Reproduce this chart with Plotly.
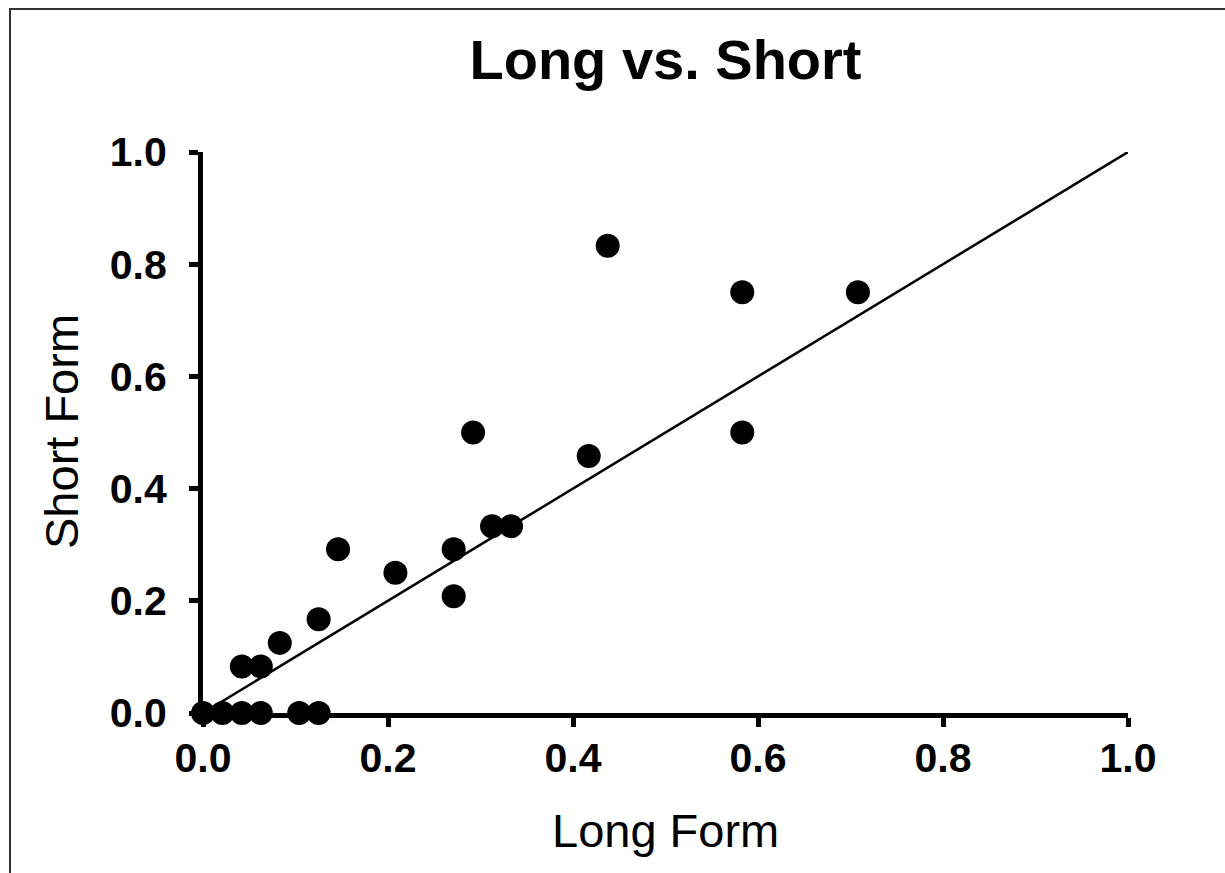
import plotly.graph_objects as go

# Data (Long Form vs Short Form)
long_form = [0.0, 0.021, 0.042, 0.0625, 0.104, 0.125,
             0.042, 0.0625, 0.083, 0.125, 0.146, 0.208,
             0.271, 0.271, 0.292, 0.3125, 0.333, 0.417,
             0.4375, 0.583, 0.583, 0.708]
short_form = [0.0, 0.0, 0.0, 0.0, 0.0, 0.0,
              0.083, 0.083, 0.125, 0.167, 0.292, 0.25,
              0.292, 0.208, 0.5, 0.333, 0.333, 0.458,
              0.833, 0.75, 0.5, 0.75]
identity_x = [0.0, 1.0]
identity_y = [0.0, 1.0]
tick_vals = [0.0, 0.2, 0.4, 0.6, 0.8, 1.0]
tick_text = ["0.0", "0.2", "0.4", "0.6", "0.8", "1.0"]

FONT = "Liberation Sans, Arial, sans-serif"

fig = go.Figure()
fig.add_trace(go.Scatter(x=identity_x, y=identity_y, mode="lines",
                         line=dict(color="black", width=2.5),
                         hoverinfo="skip", cliponaxis=False, showlegend=False))
fig.add_trace(go.Scatter(x=long_form, y=short_form, mode="markers",
                         marker=dict(color="black", size=24, line=dict(width=0)),
                         cliponaxis=False, showlegend=False))

W, H = 1225, 873
L, R, T, B = 203, 97, 152, 160
pw = W - L - R
ph = H - T - B

axis_common = dict(range=[0, 1], tickvals=tick_vals, ticktext=tick_text,
                   showline=True, linewidth=5, linecolor="black",
                   ticks="outside", ticklen=9, tickwidth=5, tickcolor="black",
                   showgrid=False, zeroline=False,
                   tickfont=dict(family=FONT, size=41, color="black", weight="bold"))

fig.update_layout(
    width=W, height=H,
    margin=dict(l=L, r=R, t=T, b=B, pad=0),
    paper_bgcolor="white", plot_bgcolor="white",
    title=dict(text="Long vs. Short", x=(L + pw / 2) / W, xanchor="center",
               y=1 - 59 / H, yanchor="middle", yref="container",
               font=dict(family=FONT, size=56, color="black", weight="bold")),
    xaxis=dict(**axis_common, ticklabelstandoff=-4),
    yaxis=dict(**axis_common, ticklabelstandoff=14),
    annotations=[
        dict(text="Long Form", xref="paper", yref="paper", x=0.5,
             y=-(830 - (H - B)) / ph, xanchor="center", yanchor="middle",
             showarrow=False, font=dict(family=FONT, size=47, color="black")),
        dict(text="Short Form", xref="paper", yref="paper",
             x=-(L - 61) / pw, y=0.5 - (432 - (T + ph / 2)) / ph,
             xanchor="center", yanchor="middle", textangle=-90,
             showarrow=False, font=dict(family=FONT, size=47, color="black")),
    ],
    shapes=[
        dict(type="rect", xref="paper", yref="paper",
             x0=-(L - 10) / pw, x1=(W + 20 - L) / pw,
             y0=-(H + 20 - (H - B)) / ph, y1=((H - B) - 9) / ph,
             line=dict(color="#333333", width=2), fillcolor="rgba(0,0,0,0)",
             layer="below"),
    ],
)

fig.write_html("out.html")
